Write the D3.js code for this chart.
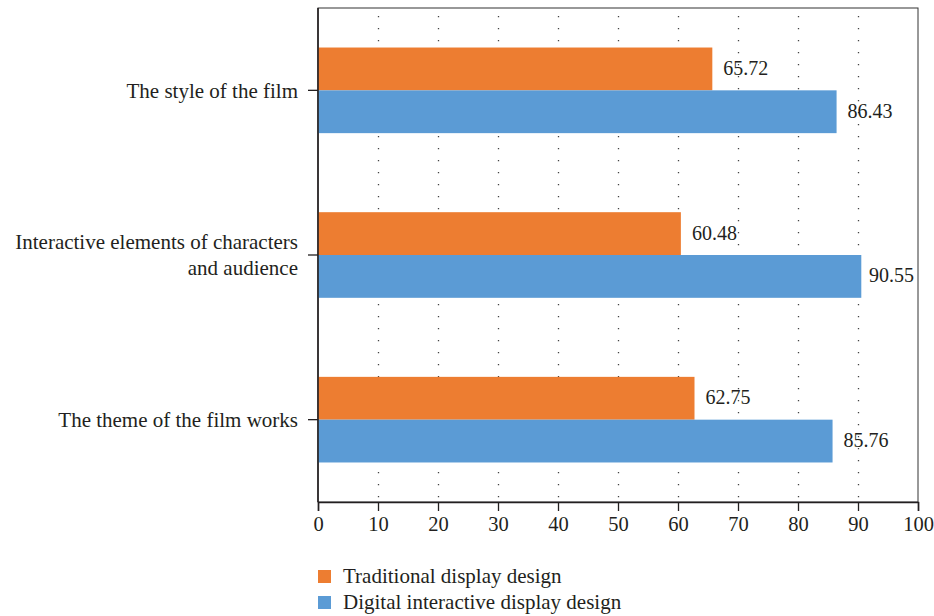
<!DOCTYPE html>
<html>
<head>
<meta charset="utf-8">
<script src="https://cdn.jsdelivr.net/npm/d3@7/dist/d3.min.js"></script>
<style>
  body { margin: 0; background: #fff; }
  svg text { font-family: "Liberation Serif", "DejaVu Serif", serif; fill: #231f20; }
</style>
</head>
<body>
<svg id="chart" width="934" height="616"></svg>
<script>
// Aspects rated, top to bottom
const categories = [
  ["The style of the film"],
  ["Interactive elements of characters", "and audience"],
  ["The theme of the film works"]
];
const seriesNames = ["Traditional display design", "Digital interactive display design"];
const traditional = [65.72, 60.48, 62.75];
const digital = [86.43, 90.55, 85.76];
const xTicks = [0, 10, 20, 30, 40, 50, 60, 70, 80, 90, 100];
const colors = ["#ED7D31", "#5B9BD5"];

(function () {
const svg = d3.select("#chart");
const plotL = 318, plotR = 918, plotT = 8, plotB = 502;

const x = d3.scaleLinear().domain([0, 100]).range([plotL, plotR]);
const y0 = d3.scaleBand().domain(d3.range(categories.length)).range([plotT, plotB]).paddingInner(0.48).paddingOuter(0.24);
const y1 = d3.scaleBand().domain([0, 1]).range([0, y0.bandwidth()]);

// dotted vertical gridlines
svg.append("g").selectAll("line")
  .data(xTicks.filter(t => t > 0 && t < 100))
  .join("line")
  .attr("x1", d => x(d) + 0.5).attr("x2", d => x(d) + 0.5)
  .attr("y1", plotT + 8).attr("y2", plotB)
  .attr("stroke", "#444").attr("stroke-width", 1.3)
  .attr("stroke-dasharray", "1.3,10.7");

// plot frame
svg.append("rect")
  .attr("x", plotL).attr("y", plotT).attr("width", plotR - plotL).attr("height", plotB - plotT)
  .attr("fill", "none").attr("stroke", "#333").attr("stroke-width", 1);

// bars
const rows = categories.map((c, i) => ({ i, vals: [traditional[i], digital[i]] }));
const g = svg.append("g").selectAll("g").data(rows).join("g")
  .attr("transform", d => `translate(0,${y0(d.i)})`);

g.selectAll("rect").data(d => d.vals.map((v, k) => ({ v, k })))
  .join("rect")
  .attr("x", x(0)).attr("y", d => y1(d.k))
  .attr("width", d => x(d.v) - x(0)).attr("height", y1.bandwidth())
  .attr("fill", d => colors[d.k]);

// value labels, kept inside the frame
g.selectAll("text.val").data(d => d.vals.map((v, k) => ({ v, k })))
  .join("text").attr("class", "val")
  .attr("y", d => y1(d.k) + y1.bandwidth() / 2 - 1)
  .attr("dy", "0.35em").attr("font-size", 20)
  .text(d => d.v.toFixed(2))
  .attr("x", function (d) {
    const w = this.getComputedTextLength();
    return Math.min(x(d.v) + 11, plotR - w - 4);
  });

// x axis
const xAxis = svg.append("g").attr("transform", `translate(0,${plotB})`)
  .call(d3.axisBottom(x).tickValues(xTicks).tickSize(9).tickPadding(5).tickFormat(d3.format("d")));
xAxis.select(".domain").attr("stroke", "#231f20").attr("stroke-width", 1.5);
xAxis.selectAll(".tick line").attr("stroke", "#231f20").attr("stroke-width", 1.3);
xAxis.selectAll("text").attr("font-size", 20.5).style("font-family", "Liberation Serif, serif").attr("fill", "#231f20");

// y axis
const yAxis = svg.append("g").attr("transform", `translate(${plotL},0)`);
yAxis.append("line").attr("x1", 0).attr("x2", 0).attr("y1", plotT).attr("y2", plotB)
  .attr("stroke", "#231f20").attr("stroke-width", 1.6);
const yt = yAxis.selectAll("g").data(categories).join("g")
  .attr("transform", (d, i) => `translate(0,${y0(i) + y0.bandwidth() / 2})`);
yt.append("line").attr("x1", -10).attr("x2", 0).attr("stroke", "#231f20").attr("stroke-width", 1.3);
yt.append("text").attr("text-anchor", "end").attr("font-size", 21)
  .selectAll("tspan").data(d => d.map((s, j) => ({ s, j, n: d.length })))
  .join("tspan")
  .attr("x", -20)
  .attr("y", d => (d.j - (d.n - 1) / 2) * 26)
  .attr("dy", "0.35em")
  .text(d => d.s);

// legend
const lg = svg.append("g").selectAll("g").data(seriesNames).join("g")
  .attr("transform", (d, i) => `translate(318,${576 + i * 26})`);
lg.append("rect").attr("x", 0).attr("y", -6).attr("width", 13).attr("height", 13)
  .attr("fill", (d, i) => colors[i]);
lg.append("text").attr("x", 25).attr("dy", "0.35em").attr("font-size", 21).text(d => d);
})();
</script>
</body>
</html>
